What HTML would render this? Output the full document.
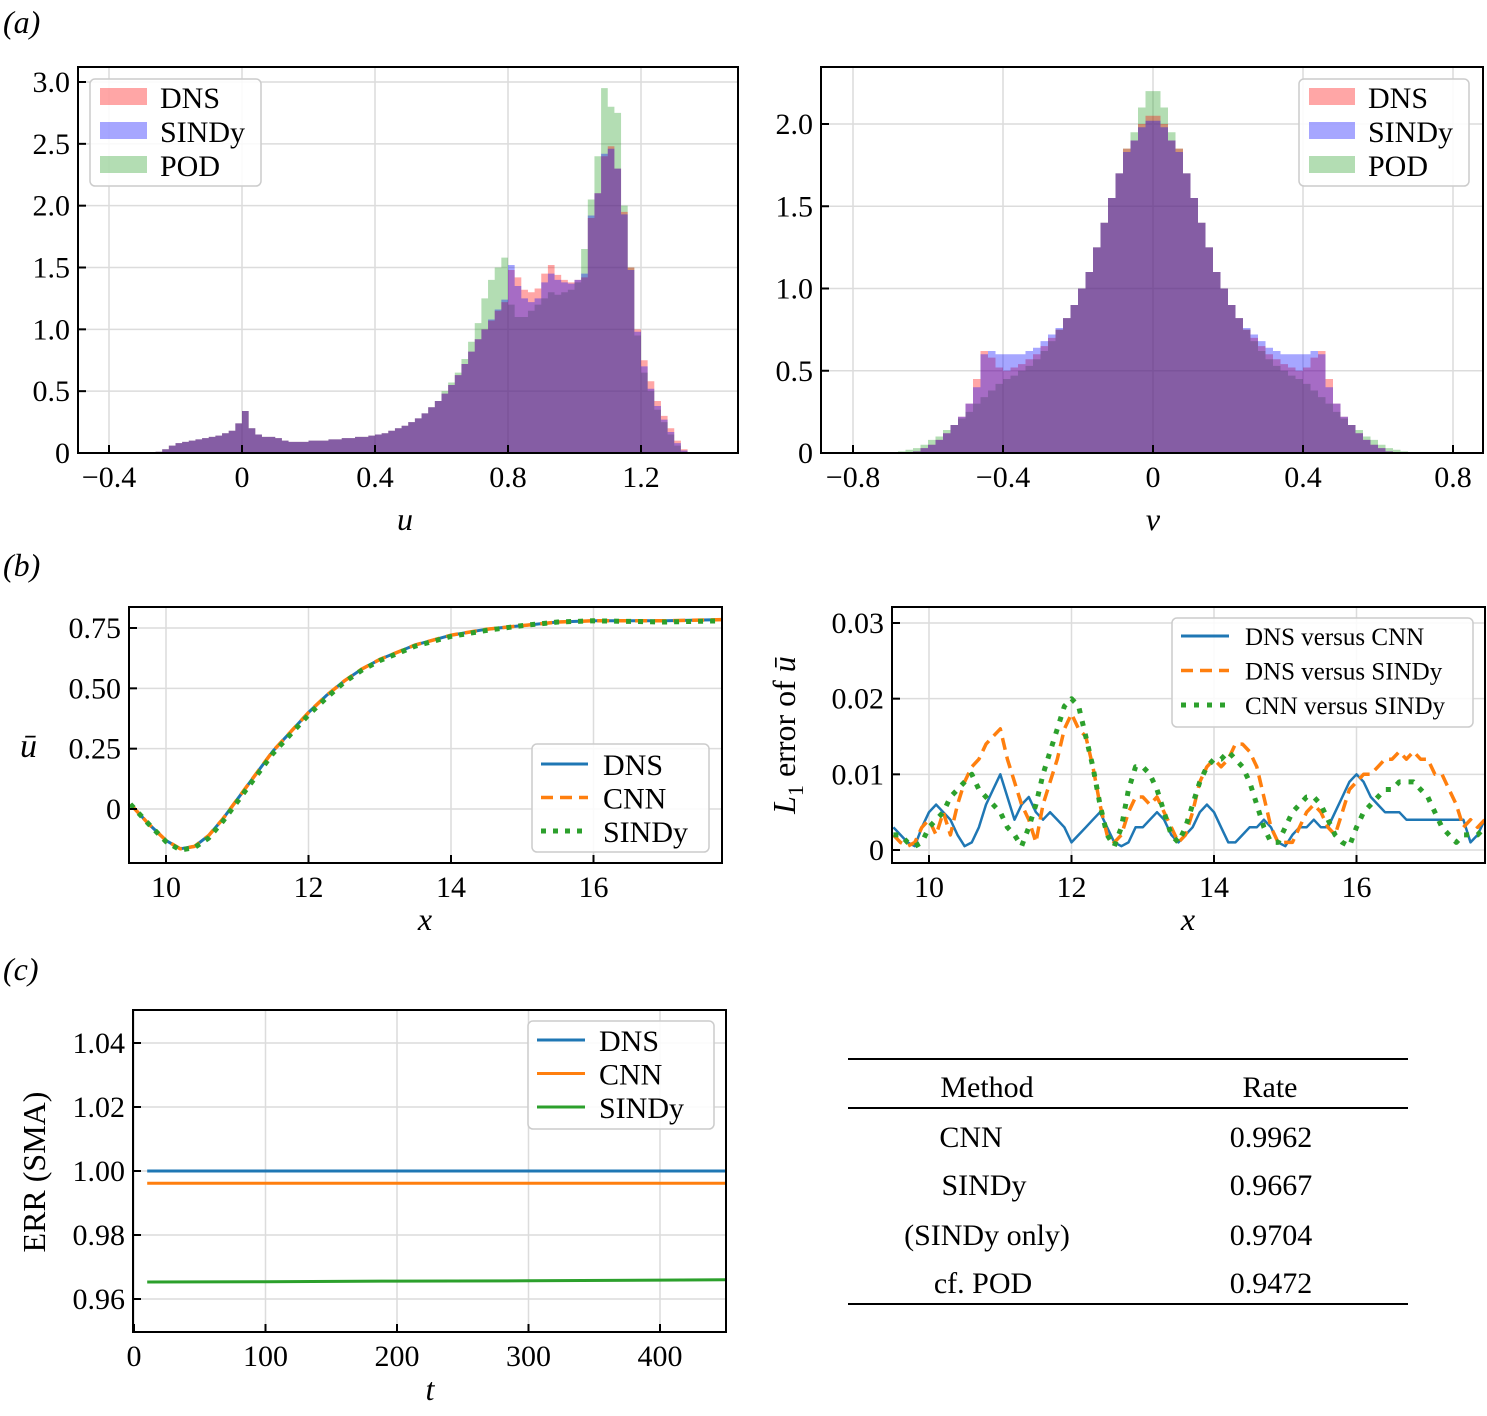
<!DOCTYPE html>
<html><head><meta charset="utf-8"><style>
body{margin:0;background:#fff}
svg{display:block;font-family:"Liberation Serif",serif}
</style></head><body>
<svg id="fig" width="1487" height="1416" viewBox="0 0 1487 1416" xmlns="http://www.w3.org/2000/svg">
<text x="3" y="33" font-size="32" font-style="italic">(a)</text>
<text x="3" y="576" font-size="32" font-style="italic">(b)</text>
<text x="3" y="980" font-size="32" font-style="italic">(c)</text>
<g font-size="30">
<line x1="848" y1="1059" x2="1408" y2="1059" stroke="#000" stroke-width="2"/>
<line x1="848" y1="1108" x2="1408" y2="1108" stroke="#000" stroke-width="2"/>
<line x1="848" y1="1304" x2="1408" y2="1304" stroke="#000" stroke-width="2"/>
<text x="987" y="1097" text-anchor="middle">Method</text>
<text x="1270" y="1097" text-anchor="middle">Rate</text>
<text x="971" y="1147" text-anchor="middle">CNN</text>
<text x="1271" y="1147" text-anchor="middle">0.9962</text>
<text x="984" y="1195" text-anchor="middle">SINDy</text>
<text x="1271" y="1195" text-anchor="middle">0.9667</text>
<text x="987" y="1245" text-anchor="middle">(SINDy only)</text>
<text x="1271" y="1245" text-anchor="middle">0.9704</text>
<text x="983" y="1293" text-anchor="middle">cf. POD</text>
<text x="1271" y="1293" text-anchor="middle">0.9472</text>
</g>
</svg>
<script>
// ---------- data ----------
const uBinStart = -0.26, uBinW = 0.02;
const uDNS = [0.01,0.03,0.06,0.08,0.09,0.1,0.11,0.12,0.13,0.14,0.16,0.18,0.24,0.34,0.2,0.15,0.13,0.13,0.12,0.1,0.09,0.09,0.09,0.1,0.1,0.1,0.11,0.11,0.12,0.12,0.13,0.13,0.14,0.15,0.16,0.18,0.2,0.22,0.25,0.28,0.32,0.37,0.42,0.48,0.55,0.63,0.72,0.82,0.92,1.0,1.07,1.15,1.22,1.48,1.42,1.32,1.3,1.33,1.45,1.52,1.44,1.4,1.38,1.4,1.42,1.9,2.1,2.4,2.48,2.3,1.95,1.5,1.0,0.75,0.58,0.42,0.3,0.2,0.1,0.03];
const uSINDy = [0.01,0.03,0.06,0.08,0.09,0.1,0.11,0.12,0.13,0.14,0.16,0.18,0.24,0.34,0.2,0.15,0.13,0.13,0.12,0.1,0.09,0.09,0.09,0.1,0.1,0.1,0.11,0.11,0.12,0.12,0.13,0.13,0.14,0.15,0.16,0.18,0.2,0.22,0.25,0.28,0.32,0.37,0.42,0.48,0.55,0.63,0.72,0.82,0.92,1.0,1.08,1.16,1.24,1.52,1.35,1.25,1.22,1.25,1.38,1.45,1.4,1.38,1.37,1.4,1.45,1.92,2.1,2.42,2.46,2.3,1.93,1.48,0.98,0.7,0.52,0.38,0.27,0.17,0.08,0.02];
const uPOD = [0.01,0.03,0.06,0.08,0.09,0.1,0.11,0.12,0.13,0.14,0.16,0.18,0.24,0.34,0.2,0.15,0.13,0.13,0.12,0.1,0.09,0.09,0.09,0.1,0.1,0.1,0.11,0.11,0.12,0.12,0.13,0.13,0.14,0.15,0.16,0.18,0.2,0.22,0.25,0.28,0.32,0.37,0.42,0.5,0.57,0.65,0.76,0.9,1.05,1.25,1.4,1.5,1.58,1.2,1.1,1.1,1.15,1.2,1.25,1.3,1.28,1.3,1.32,1.38,1.65,2.05,2.4,2.95,2.8,2.75,2.0,1.5,0.95,0.65,0.5,0.35,0.25,0.15,0.06,0.01];
const vBinW = 0.02;
const vDNSHalf = [2.05,2.0,1.9,1.85,1.7,1.55,1.4,1.25,1.1,1.0,0.9,0.82,0.75,0.7,0.65,0.6,0.57,0.54,0.52,0.5,0.52,0.58,0.62,0.45,0.3,0.22,0.17,0.12,0.08,0.05,0.03,0.01,0,0,0,0,0];
const vSINDyHalf = [2.02,1.98,1.9,1.83,1.7,1.55,1.4,1.25,1.1,1.0,0.9,0.82,0.76,0.72,0.68,0.64,0.62,0.6,0.6,0.6,0.6,0.62,0.6,0.4,0.3,0.22,0.17,0.12,0.08,0.05,0.03,0.01,0,0,0,0,0];
const vPODHalf = [2.2,2.1,1.95,1.85,1.7,1.55,1.4,1.25,1.1,1.0,0.9,0.82,0.75,0.68,0.62,0.57,0.53,0.5,0.47,0.45,0.42,0.38,0.34,0.3,0.25,0.21,0.17,0.14,0.1,0.08,0.05,0.03,0.02,0.01,0,0,0];
const ubarX = [9.5,9.75,10,10.2,10.4,10.6,10.8,11,11.25,11.5,11.75,12,12.25,12.5,12.75,13,13.5,14,14.5,15,15.5,16,17,17.8];
const ubarDNS = [0.02,-0.06,-0.13,-0.165,-0.155,-0.11,-0.04,0.04,0.14,0.24,0.32,0.40,0.47,0.53,0.58,0.62,0.68,0.72,0.745,0.76,0.775,0.78,0.78,0.785];
const ubarCNN = [0.02,-0.06,-0.13,-0.165,-0.155,-0.11,-0.04,0.04,0.14,0.24,0.32,0.40,0.47,0.53,0.58,0.62,0.68,0.72,0.745,0.76,0.775,0.78,0.78,0.785];
const ubarSINDy = [0.02,-0.06,-0.135,-0.17,-0.16,-0.12,-0.05,0.03,0.13,0.23,0.31,0.39,0.46,0.525,0.575,0.615,0.675,0.715,0.74,0.76,0.775,0.78,0.775,0.78];
const errStart = 9.5, errStep = 0.1;
const errDNSCNN = [0.003,0.002,0.001,0.0005,0.003,0.005,0.006,0.005,0.004,0.002,0.0005,0.001,0.003,0.006,0.008,0.010,0.007,0.004,0.006,0.007,0.005,0.004,0.005,0.004,0.003,0.001,0.002,0.003,0.004,0.005,0.003,0.001,0.0005,0.001,0.003,0.003,0.004,0.005,0.004,0.002,0.001,0.002,0.003,0.005,0.006,0.005,0.003,0.001,0.001,0.002,0.003,0.003,0.004,0.003,0.001,0.0005,0.002,0.003,0.003,0.004,0.003,0.003,0.005,0.007,0.009,0.010,0.009,0.007,0.006,0.005,0.005,0.005,0.004,0.004,0.004,0.004,0.004,0.004,0.004,0.004,0.004,0.001,0.002,0.004];
const errDNSSINDy = [0.002,0.001,0.0005,0.001,0.003,0.004,0.002,0.005,0.002,0.006,0.009,0.011,0.012,0.014,0.015,0.016,0.012,0.009,0.006,0.004,0.001,0.006,0.009,0.012,0.016,0.018,0.016,0.015,0.011,0.006,0.002,0.001,0.002,0.005,0.007,0.007,0.006,0.007,0.005,0.003,0.001,0.002,0.005,0.009,0.011,0.012,0.011,0.012,0.014,0.014,0.013,0.011,0.007,0.003,0.001,0.001,0.001,0.003,0.005,0.006,0.005,0.003,0.002,0.005,0.008,0.009,0.010,0.010,0.011,0.012,0.012,0.013,0.012,0.013,0.012,0.012,0.010,0.010,0.008,0.006,0.003,0.004,0.003,0.004];
const errCNNSINDy = [0.002,0.002,0.001,0.0005,0.001,0.003,0.004,0.005,0.007,0.008,0.009,0.01,0.008,0.007,0.006,0.005,0.003,0.002,0.0005,0.003,0.006,0.010,0.013,0.016,0.019,0.020,0.019,0.015,0.011,0.006,0.002,0.0005,0.003,0.008,0.011,0.011,0.010,0.008,0.005,0.002,0.001,0.003,0.006,0.009,0.011,0.012,0.012,0.013,0.012,0.011,0.009,0.006,0.003,0.001,0.001,0.003,0.005,0.006,0.007,0.007,0.006,0.004,0.002,0.001,0.0005,0.003,0.005,0.006,0.007,0.008,0.008,0.009,0.009,0.009,0.008,0.007,0.005,0.003,0.002,0.001,0.002,0.002,0.002,0.003];
const errT = [10,100,200,300,400,450];
const errRateDNS = [1.0,1.0,1.0,1.0,1.0,1.0];
const errRateCNN = [0.9962,0.9962,0.9962,0.9962,0.9962,0.9962];
const errRateSINDy = [0.9653,0.9654,0.9656,0.9657,0.9659,0.966];

// ---------- helpers ----------
const NS='http://www.w3.org/2000/svg';
const svg=document.getElementById('fig');
function mk(tag,attrs,parent){const e=document.createElementNS(NS,tag);for(const k in attrs)e.setAttribute(k,attrs[k]);(parent||svg).appendChild(e);return e;}
function lin(d0,d1,r0,r1){return v=>r0+(v-d0)*(r1-r0)/(d1-d0);}
function axes(name,box,xs,ys,xt,yt){
  const g=mk('g',{});
  
  
  xt.forEach(t=>{const x=xs(t[0]);mk('line',{x1:x,x2:x,y1:box.y0,y2:box.y1,stroke:'#dcdcdc','stroke-width':1.5},g);});
  yt.forEach(t=>{const y=ys(t[0]);mk('line',{x1:box.x0,x2:box.x1,y1:y,y2:y,stroke:'#dcdcdc','stroke-width':1.5},g);});
  return g;
}
function frame(name,box,xs,ys,xt,yt,fs){
  const g=mk('g',{});
  
  
  mk('rect',{x:box.x0,y:box.y0,width:box.x1-box.x0,height:box.y1-box.y0,fill:'none',stroke:'#000','stroke-width':2},g);
  xt.forEach(t=>{const x=xs(t[0]);mk('line',{x1:x,x2:x,y1:box.y1,y2:box.y1-8,stroke:'#000','stroke-width':2},g);
    const tx=mk('text',{x:x,y:box.y1+34,'text-anchor':'middle','font-size':fs},g);tx.textContent=t[1];
    
    });
  yt.forEach(t=>{const y=ys(t[0]);mk('line',{x1:box.x0,x2:box.x0+8,y1:y,y2:y,stroke:'#000','stroke-width':2},g);
    const tx=mk('text',{x:box.x0-8,y:y+10,'text-anchor':'end','font-size':fs},g);tx.textContent=t[1];
    
    });
}
function txt(s,x,y,fs,name,extra){const t=mk('text',Object.assign({x:x,y:y,'font-size':fs},extra||{}));t.textContent=s;
  
  return t;}
function hist(g,vals,start,w,xs,ys,color,op,name){
  let d='';
  vals.forEach((v,i)=>{if(v<=0)return;const x0=xs(start+i*w),x1=xs(start+(i+1)*w);d+=`M${x0},${ys(0)}V${ys(v)}H${x1}V${ys(0)}Z`;});
  const p=mk('path',{d:d,fill:color,'fill-opacity':op},g);
  
  
}
function poly(g,xv,yv,xs,ys,color,w,dash,name){
  const pts=xv.map((x,i)=>xs(x).toFixed(1)+','+ys(yv[i]).toFixed(1)).join(' ');
  const a={points:pts,fill:'none',stroke:color,'stroke-width':w,'stroke-linejoin':'round'};
  if(dash)a['stroke-dasharray']=dash;
  const p=mk('polyline',a,g);
  
  
}
function legendBox(x,y,w,h,name){const r=mk('rect',{x:x,y:y,width:w,height:h,rx:5,fill:'#fff','fill-opacity':0.85,stroke:'#ccc','stroke-width':1.5});
  
  }
const RED='#ff0000',BLUE='#0000ff',GREEN='#2ca02c',OP=0.35,OPG=0.36;
const C1='#1f77b4',C2='#ff7f0e',C3='#2ca02c';

// ---------- (a) left ----------
{const box={x0:78,x1:738,y0:67,y1:453};
 const xs=lin(0,0.4,242,375), ys=lin(0,3,453,82);
 const xt=[[-0.4,'\u22120.4'],[0,'0'],[0.4,'0.4'],[0.8,'0.8'],[1.2,'1.2']];
 const yt=[[0,'0'],[0.5,'0.5'],[1,'1.0'],[1.5,'1.5'],[2,'2.0'],[2.5,'2.5'],[3,'3.0']];
 const g=axes('u-histogram',box,xs,ys,xt,yt);
 hist(g,uPOD,uBinStart,uBinW,xs,ys,GREEN,OPG,'hist-u-pod');
 hist(g,uDNS,uBinStart,uBinW,xs,ys,RED,OP,'hist-u-dns');
 hist(g,uSINDy,uBinStart,uBinW,xs,ys,BLUE,OP,'hist-u-sindy');
 frame('u-histogram-axes',box,xs,ys,xt,yt,30);
 txt('u',405,530,32,'x-axis-title-u',{'font-style':'italic','text-anchor':'middle'});
 legendBox(90,79,171,107,'legend-u');
 [['DNS',RED,OP],['SINDy',BLUE,OP],['POD',GREEN,OPG]].forEach((e,i)=>{const y=88+i*34;
   const r=mk('rect',{x:100,y:y,width:47,height:17,fill:e[1],'fill-opacity':e[2]});
   
   
   txt(e[0],160,y+20,30,'legend-entry');});
}
// ---------- (a) right ----------
{const box={x0:821,x1:1483,y0:67,y1:453};
 const xs=lin(0,0.4,1153,1303), ys=lin(0,2,453,124);
 const xt=[[-0.8,'\u22120.8'],[-0.4,'\u22120.4'],[0,'0'],[0.4,'0.4'],[0.8,'0.8']];
 const yt=[[0,'0'],[0.5,'0.5'],[1,'1.0'],[1.5,'1.5'],[2,'2.0']];
 const g=axes('v-histogram',box,xs,ys,xt,yt);
 const n=vDNSHalf.length, st=-n*vBinW;
 const full=h=>h.slice().reverse().concat(h);
 hist(g,full(vPODHalf),st,vBinW,xs,ys,GREEN,OPG,'hist-v-pod');
 hist(g,full(vDNSHalf),st,vBinW,xs,ys,RED,OP,'hist-v-dns');
 hist(g,full(vSINDyHalf),st,vBinW,xs,ys,BLUE,OP,'hist-v-sindy');
 frame('v-histogram-axes',box,xs,ys,xt,yt,30);
 txt('v',1153,530,32,'x-axis-title-v',{'font-style':'italic','text-anchor':'middle'});
 legendBox(1299,79,170,107,'legend-v');
 [['DNS',RED,OP],['SINDy',BLUE,OP],['POD',GREEN,OPG]].forEach((e,i)=>{const y=88+i*34;
   const r=mk('rect',{x:1309,y:y,width:46,height:17,fill:e[1],'fill-opacity':e[2]});
   
   
   txt(e[0],1368,y+20,30,'legend-entry');});
}
// ---------- (b) left ----------
{const box={x0:129,x1:722,y0:607,y1:863};
 const xs=lin(10,12,166,308.5), ys=lin(0,0.75,809,628);
 const xt=[[10,'10'],[12,'12'],[14,'14'],[16,'16']];
 const yt=[[0,'0'],[0.25,'0.25'],[0.5,'0.50'],[0.75,'0.75']];
 const g=axes('ubar-profile',box,xs,ys,xt,yt);
 poly(g,ubarX,ubarDNS,xs,ys,C1,3,null,'line-ubar-dns');
 poly(g,ubarX,ubarCNN,xs,ys,C2,3.5,'12,7','line-ubar-cnn');
 poly(g,ubarX,ubarSINDy,xs,ys,C3,5,'5,7','line-ubar-sindy');
 frame('ubar-axes',box,xs,ys,xt,yt,30);
 txt('x',425,930,32,'x-axis-title-x',{'font-style':'italic','text-anchor':'middle'});
 txt('u\u0304',20,757,34,'y-axis-title-ubar',{'font-style':'italic'});
 legendBox(532,744,177,108,'legend-ubar');
 [['DNS',C1,null,3],['CNN',C2,'12,7',3.5],['SINDy',C3,'5,7',5]].forEach((e,i)=>{const y=764+i*33.5;
   const a={x1:541,x2:588,y1:y,y2:y,stroke:e[1],'stroke-width':e[3]};if(e[2])a['stroke-dasharray']=e[2];
   const l=mk('line',a);
   
   
   txt(e[0],603,y+11,30,'legend-entry');});
}
// ---------- (b) right ----------
{const box={x0:892,x1:1485,y0:607,y1:863};
 const xs=lin(10,12,929,1071.5), ys=lin(0,0.03,850,623);
 const xt=[[10,'10'],[12,'12'],[14,'14'],[16,'16']];
 const yt=[[0,'0'],[0.01,'0.01'],[0.02,'0.02'],[0.03,'0.03']];
 const g=axes('l1-error',box,xs,ys,xt,yt);
 const xv=errDNSCNN.map((_,i)=>errStart+i*errStep);
 poly(g,xv,errDNSCNN,xs,ys,C1,2.5,null,'line-err-dns-cnn');
 poly(g,xv,errDNSSINDy,xs,ys,C2,3.5,'12,7','line-err-dns-sindy');
 poly(g,xv,errCNNSINDy,xs,ys,C3,5,'5,8','line-err-cnn-sindy');
 frame('l1-error-axes',box,xs,ys,xt,yt,30);
 txt('x',1188,930,32,'x-axis-title-x2',{'font-style':'italic','text-anchor':'middle'});
 const yl=txt('',795,735,32,'y-axis-title-l1',{'text-anchor':'middle',transform:'rotate(-90 795 735)'});
 yl.innerHTML='<tspan font-style="italic">L</tspan><tspan font-size="22" dy="8">1</tspan><tspan dy="-8"> error of </tspan><tspan font-style="italic">u\u0304</tspan>';
 legendBox(1172,618,301,109,'legend-l1');
 [['DNS versus CNN',C1,null,3],['DNS versus SINDy',C2,'12,7',3.5],['CNN versus SINDy',C3,'5,8',5]].forEach((e,i)=>{const y=636+i*34.5;
   const a={x1:1181,x2:1229,y1:y,y2:y,stroke:e[1],'stroke-width':e[3]};if(e[2])a['stroke-dasharray']=e[2];
   const l=mk('line',a);
   
   
   txt(e[0],1245,y+9,25,'legend-entry');});
}
// ---------- (c) ----------
{const box={x0:133,x1:726,y0:1010,y1:1332};
 const xs=lin(0,100,134,265.5), ys=lin(0.96,1.04,1299,1043);
 const xt=[[0,'0'],[100,'100'],[200,'200'],[300,'300'],[400,'400']];
 const yt=[[0.96,'0.96'],[0.98,'0.98'],[1.0,'1.00'],[1.02,'1.02'],[1.04,'1.04']];
 const g=axes('err-sma',box,xs,ys,xt,yt);
 poly(g,errT,errRateDNS,xs,ys,C1,3,null,'line-err-sma-dns');
 poly(g,errT,errRateCNN,xs,ys,C2,3,null,'line-err-sma-cnn');
 poly(g,errT,errRateSINDy,xs,ys,C3,3,null,'line-err-sma-sindy');
 frame('err-sma-axes',box,xs,ys,xt,yt,30);
 txt('t',430,1400,32,'x-axis-title-t',{'font-style':'italic','text-anchor':'middle'});
 txt('ERR (SMA)',45,1172,32,'y-axis-title-err',{'text-anchor':'middle',transform:'rotate(-90 45 1172)'});
 legendBox(528,1021,186,108,'legend-err');
 [['DNS',C1],['CNN',C2],['SINDy',C3]].forEach((e,i)=>{const y=1040+i*33.5;
   const l=mk('line',{x1:537,x2:585,y1:y,y2:y,stroke:e[1],'stroke-width':3});
   
   
   txt(e[0],599,y+11,30,'legend-entry');});
}
</script>
</body></html>
